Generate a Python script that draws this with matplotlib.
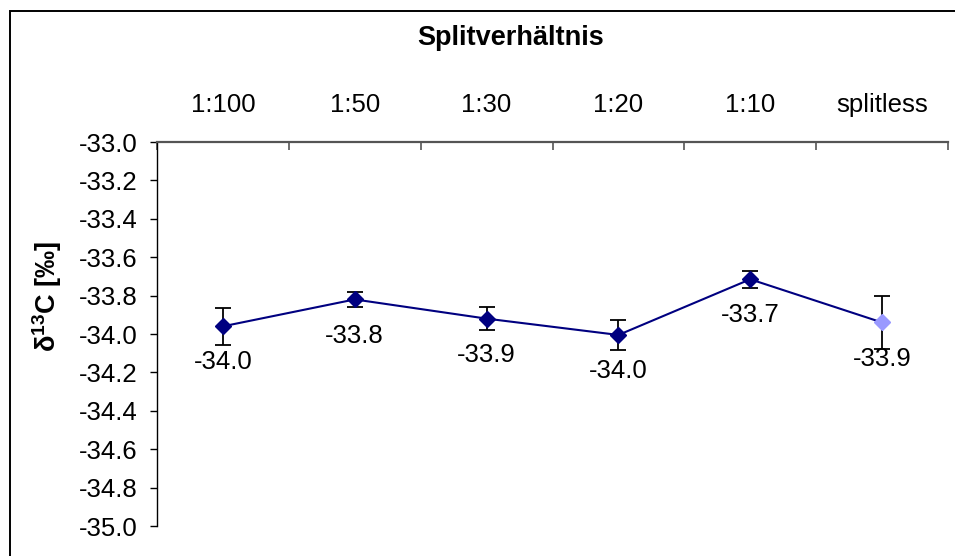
import matplotlib
matplotlib.use("Agg")
import matplotlib.pyplot as plt
from matplotlib.patches import Rectangle

categories = ["1:100", "1:50", "1:30", "1:20", "1:10", "splitless"]
values = [-33.96, -33.82, -33.92, -34.005, -33.715, -33.94]
errors = [0.095, 0.04, 0.06, 0.08, 0.045, 0.14]
yticks = [-35.0, -34.8, -34.6, -34.4, -34.2, -34.0, -33.8, -33.6, -33.4, -33.2, -33.0]
title = "Splitverhältnis"
ylabel = r"δ$^{13}$C [‰]"

plt.rcParams['font.family'] = ['Liberation Sans', 'DejaVu Sans']
plt.rcParams['mathtext.fontset'] = 'custom'
plt.rcParams['mathtext.rm'] = 'Liberation Sans'
plt.rcParams['mathtext.bf'] = 'Liberation Sans:bold'
plt.rcParams['mathtext.default'] = 'bf'
FS = 18.5

fig = plt.figure(figsize=(9.55, 5.56), dpi=100)
W, H = 955, 556
ax = fig.add_axes([157 / W, (H - 526) / H, (948 - 157) / W, 384 / H])

x = list(range(len(categories)))
navy = "#000080"
ax.errorbar(x, values, yerr=errors, fmt='none', ecolor='black', elinewidth=1.3,
            capsize=6, capthick=1.3, zorder=2)
ax.plot(x, values, color=navy, lw=1.5, zorder=3)
colors = [navy] * (len(x) - 1) + ["#9999FF"]
for xi, v, c in zip(x, values, colors):
    ax.plot([xi], [v], marker='D', ms=8, color=c, mec=c, ls='none', zorder=4)
    ax.annotate(f"{v:.1f}", (xi, v), xytext=(0, -26), textcoords='offset points',
                ha='center', va='center', fontsize=FS, zorder=5)

ax.set_xlim(-0.5, len(categories) - 0.5)
ax.set_ylim(-35.0, -33.0)
ax.set_yticks(yticks)
ax.set_yticklabels([f"{t:.1f}" for t in yticks], fontsize=FS)
ax.tick_params(axis='y', direction='out', length=5, width=1, pad=9, color='black')

ax.xaxis.tick_top()
ax.set_xticks([i - 0.5 for i in range(len(categories) + 1)])
ax.set_xticklabels([])
ax.set_xticks(x, minor=True)
ax.set_xticklabels(categories, minor=True, fontsize=FS)
ax.tick_params(axis='x', which='major', direction='in', length=6, width=1.2,
               color='#555555', top=True, bottom=False)
ax.tick_params(axis='x', which='minor', length=0, pad=18, top=True, bottom=False)

ax.spines['right'].set_visible(False)
ax.spines['bottom'].set_visible(False)
ax.spines['top'].set_color('#555555')
ax.spines['top'].set_linewidth(1.6)
ax.spines['left'].set_color('black')
ax.spines['left'].set_linewidth(1.0)

fig.text(511 / W, 1 - 38 / H, title, ha='center', va='center', fontsize=FS + 1,
         fontweight='bold')
fig.text(47 / W, 1 - 296 / H, ylabel, ha='center', va='center', fontsize=FS + 1,
         fontweight='bold', rotation=90)

fig.patches.append(Rectangle((10 / W, -0.1), 1.2, 1 - 11 / H + 0.1,
                             transform=fig.transFigure, fill=False,
                             edgecolor='black', lw=1.4, zorder=0))

fig.savefig("out.png", dpi=100)
